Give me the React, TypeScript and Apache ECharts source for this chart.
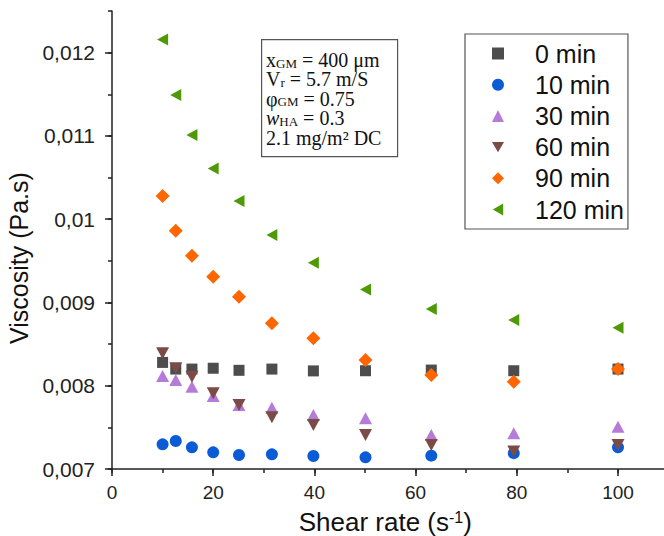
import React, { useEffect, useRef } from 'react';
import * as echarts from 'echarts';

const shearRate = [10, 12.6, 15.8, 20, 25.1, 31.6, 39.8, 50.1, 63.1, 79.4, 100];
const visc0min = [0.00828, 0.0082, 0.0082, 0.00821, 0.008185, 0.0082, 0.008178, 0.00818, 0.008188, 0.00818, 0.0082];
const visc10min = [0.007296, 0.007336, 0.00726, 0.0072, 0.007168, 0.007176, 0.007156, 0.00714, 0.00716, 0.00719, 0.00726];
const visc30min = [0.008116, 0.008068, 0.007988, 0.007876, 0.007768, 0.007736, 0.007648, 0.007608, 0.007408, 0.007428, 0.007508];
const visc60min = [0.008389, 0.008209, 0.008108, 0.007909, 0.007768, 0.00762, 0.007528, 0.007408, 0.007288, 0.00721, 0.007288];
const visc90min = [0.010277, 0.009861, 0.009561, 0.009309, 0.009068, 0.008749, 0.008569, 0.008308, 0.008128, 0.008048, 0.0082];
const visc120min = [0.012158, 0.01149, 0.01101, 0.01061, 0.010217, 0.009809, 0.009477, 0.009157, 0.00892, 0.008789, 0.008696];

const seriesNames = ['0 min', '10 min', '30 min', '60 min', '90 min', '120 min'];
const seriesValues = [visc0min, visc10min, visc30min, visc60min, visc90min, visc120min];

const xTickValues = [0, 20, 40, 60, 80, 100];
const yTickValues = [0.007, 0.008, 0.009, 0.01, 0.011, 0.012];

const annotationLines = [
  'x{sub|GM} = 400 μm',
  'V{sub|r} = 5.7 m/S',
  'φ{sub|GM} = 0.75',
  '{it|w}{sub|HA} = 0.3',
  '2.1 mg/m² DC',
];

const TRI_DOWN = 'path://M0,0 L10,0 L5,8.66 Z';
const TRI_LEFT = 'path://M0,5 L8.66,0 L8.66,10 Z';

const markerStyles = [
  { symbol: 'rect', size: 11, color: '#4d4d4d' },
  { symbol: 'circle', size: 12, color: '#0b5bd6' },
  { symbol: 'triangle', size: [13, 12], color: '#b57bd8' },
  { symbol: TRI_DOWN, size: [13, 12], color: '#7a4b47' },
  { symbol: 'diamond', size: 14, color: '#ff6600' },
  { symbol: TRI_LEFT, size: [11, 12], color: '#4e9a06' },
];

const SANS = '"Liberation Sans", Arial, sans-serif';
const SERIF = '"Liberation Serif", "Times New Roman", serif';
const AXIS_COLOR = '#222';
const GRID = { left: 112, top: 11, width: 556.6, height: 458, containLabel: false, outerBoundsMode: 'none' };

export default function App() {
  const ref = useRef<HTMLDivElement>(null);
  useEffect(() => {
    if (!ref.current) return;
    const chart = echarts.init(ref.current, null, { renderer: 'svg' });
    const series = seriesNames.map((name, i) => ({
      name,
      type: 'scatter',
      xAxisIndex: 0,
      yAxisIndex: 0,
      symbol: markerStyles[i].symbol,
      symbolSize: markerStyles[i].size,
      symbolKeepAspect: false,
      itemStyle: { color: markerStyles[i].color, opacity: 1 },
      emphasis: { disabled: true },
      data: shearRate.map((x, j) => [x, seriesValues[i][j]]),
      z: 3 + i,
    }));
    const option: any = {
      animation: false,
      backgroundColor: '#ffffff',
      textStyle: { fontFamily: SANS },
      grid: [
        { ...GRID },
        { ...GRID },
      ],
      xAxis: [
        {
          type: 'value',
          gridIndex: 0,
          min: 0,
          max: 110,
          interval: 20,
          position: 'bottom',
          name: 'Shear rate (s{sup|-1})',
          nameLocation: 'middle',
          nameGap: 40,
          nameTextStyle: {
            fontSize: 26,
            color: '#111',
            fontFamily: SANS,
            lineHeight: 26,
            padding: [0, 10, 0, 0],
            rich: { sup: { fontSize: 16, lineHeight: 12, verticalAlign: 'top', color: '#111', fontFamily: SANS } },
          },
          axisLine: { show: true, onZero: false, lineStyle: { color: AXIS_COLOR, width: 1.5 } },
          axisTick: { show: true, length: 7, customValues: xTickValues, lineStyle: { color: AXIS_COLOR, width: 1.5 } },
          axisLabel: { fontSize: 19, color: '#222', margin: 14, customValues: xTickValues, fontFamily: SANS },
          splitLine: { show: false },
        },
        {
          type: 'value',
          gridIndex: 1,
          min: 0,
          max: 110,
          interval: 10,
          position: 'bottom',
          axisLine: { show: false, onZero: false },
          axisTick: { show: true, length: 4, lineStyle: { color: AXIS_COLOR, width: 1.5 } },
          axisLabel: { show: false },
          splitLine: { show: false },
        },
      ],
      yAxis: [
        {
          type: 'value',
          gridIndex: 0,
          min: 0.007,
          max: 0.0125,
          interval: 0.001,
          position: 'left',
          name: 'Viscosity (Pa.s)',
          nameLocation: 'middle',
          nameGap: 77,
          nameTextStyle: { fontSize: 25, color: '#111', fontFamily: SANS, padding: [0, 0, 0, -36] },
          axisLine: { show: true, onZero: false, lineStyle: { color: AXIS_COLOR, width: 1.5 } },
          axisTick: { show: true, length: 7, customValues: yTickValues, lineStyle: { color: AXIS_COLOR, width: 1.5 } },
          axisLabel: {
            fontSize: 21,
            color: '#222',
            margin: 17,
            customValues: yTickValues,
            fontFamily: SANS,
            formatter: (v: number) => v.toFixed(3).replace(/0+$/, '').replace('.', ','),
          },
          splitLine: { show: false },
        },
        {
          type: 'value',
          gridIndex: 1,
          min: 0.007,
          max: 0.0125,
          interval: 0.0005,
          position: 'left',
          axisLine: { show: false, onZero: false },
          axisTick: { show: true, length: 4, lineStyle: { color: AXIS_COLOR, width: 1.5 } },
          axisLabel: { show: false },
          splitLine: { show: false },
        },
      ],
      legend: {
        orient: 'vertical',
        left: 465,
        top: 34,
        padding: [7, 4, 7, 27],
        itemWidth: 12,
        itemHeight: 12,
        itemGap: 6.2,
        borderColor: '#555',
        borderWidth: 1.2,
        backgroundColor: '#fff',
        selectedMode: false,
        data: [
          { name: seriesNames[0], icon: 'rect' },
          { name: seriesNames[1], icon: 'circle' },
          { name: seriesNames[2], icon: 'triangle' },
          { name: seriesNames[3], icon: TRI_DOWN },
          { name: seriesNames[4], icon: 'diamond' },
          { name: seriesNames[5], icon: TRI_LEFT },
        ],
        textStyle: { fontSize: 25, color: '#111', fontFamily: SANS, padding: [0, 0, 0, 26] },
      },
      graphic: [
        {
          type: 'rect',
          left: 261,
          top: 39,
          shape: { width: 136, height: 117 },
          style: { fill: '#fff', stroke: '#555', lineWidth: 1.2 },
          z: 10,
        },
        {
          type: 'text',
          left: 266,
          top: 50,
          z: 11,
          style: {
            text: annotationLines.join('\n'),
            fontFamily: SERIF,
            fontSize: 20,
            lineHeight: 19.4,
            fill: '#111',
            rich: {
              sub: { fontFamily: SERIF, fontSize: 13, lineHeight: 10, verticalAlign: 'bottom', fill: '#111' },
              it: { fontFamily: SERIF, fontSize: 20, fontStyle: 'italic', lineHeight: 19.4, fill: '#111' },
            },
          },
        },
      ],
      series,
    };
    chart.setOption(option);
    return () => chart.dispose();
  }, []);
  return (
    <div
      ref={ref}
      style={{ position: 'absolute', left: 0, top: 0, width: 664, height: 536, background: '#fff', overflow: 'hidden' }}
    />
  );
}
